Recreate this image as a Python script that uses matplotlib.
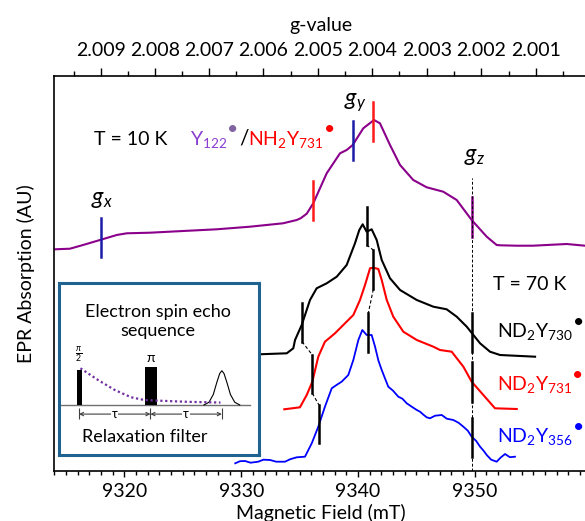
import numpy as np
import matplotlib
matplotlib.use('Agg')
import matplotlib.pyplot as plt
from matplotlib.ticker import MultipleLocator

plt.rcParams['font.family'] = ['Lato', 'DejaVu Sans']
plt.rcParams['mathtext.fontset'] = 'custom'
plt.rcParams['mathtext.rm'] = 'Lato'
plt.rcParams['mathtext.it'] = 'Lato:italic'
plt.rcParams['mathtext.bf'] = 'Lato:bold'

# field (mT) / intensity (AU)
b_10k = [9314.06, 9315.34, 9316.46, 9317.91, 9319.34, 9320.20, 9322.19, 9325.02, 9327.90,
         9330.75, 9333.58, 9334.75, 9335.10, 9335.61, 9336.17, 9337.32, 9338.46, 9339.03,
         9339.55, 9340.45, 9341.37, 9341.88, 9342.74, 9343.60, 9344.73, 9345.88, 9347.30,
         9348.45, 9349.73, 9351.02, 9351.87, 9352.16, 9353.59, 9354.98, 9357.87, 9359.69]
y_10k = [221.4, 222.0, 225.7, 230.7, 235.7, 237.4, 238.0, 239.7, 241.4,
         244.0, 247.4, 250.7, 252.5, 257.0, 267.4, 297.4, 317.4, 320.7,
         325.7, 342.4, 350.7, 347.4, 325.7, 305.7, 290.7, 283.4, 279.0,
         270.7, 250.7, 234.0, 225.7, 225.4, 225.0, 225.0, 226.7, 224.7]

b_730 = [9330.0, 9331.52, 9333.90, 9334.46, 9334.61, 9335.18, 9335.89, 9336.46, 9337.32,
         9338.18, 9339.03, 9339.74, 9340.11, 9340.40, 9340.74, 9341.17, 9341.60, 9342.03,
         9342.74, 9343.60, 9345.03, 9346.45, 9347.59, 9348.45, 9349.31, 9349.76, 9350.45,
         9351.30, 9352.16, 9355.16]
y_730 = [116.0, 116.4, 117.4, 122.4, 130.7, 145.7, 170.7, 182.4, 187.4,
         194.0, 205.7, 227.4, 240.7, 246.4, 239.0, 241.4, 230.7, 210.7,
         192.4, 180.7, 170.7, 164.0, 161.4, 154.0, 144.0, 137.4, 127.4,
         119.0, 115.7, 114.0]

b_731 = [9333.69, 9335.03, 9335.61, 9336.09, 9336.60, 9337.17, 9338.03, 9338.74, 9339.17,
         9339.60, 9340.17, 9340.60, 9341.03, 9341.31, 9341.74, 9342.03, 9342.46, 9343.02,
         9343.88, 9345.03, 9346.45, 9347.02, 9348.02, 9349.02, 9349.73, 9350.73, 9351.73,
         9353.59]
y_731 = [61.4, 63.4, 75.7, 89.0, 114.0, 129.0, 137.4, 145.7, 150.7,
         155.7, 170.7, 185.7, 202.4, 203.0, 201.7, 190.7, 170.7, 154.0,
         139.0, 130.7, 124.0, 120.7, 119.0, 104.0, 89.0, 75.7, 62.4,
         61.7]

b_356 = [9329.49, 9329.9, 9330.33, 9330.8, 9331.46, 9331.9, 9332.47, 9333.0, 9333.75,
         9334.2, 9334.75, 9335.46, 9336.04, 9336.60, 9337.17, 9337.75, 9338.20, 9338.60,
         9339.17, 9339.60, 9340.03, 9340.37, 9340.74, 9341.17, 9341.46, 9341.75, 9342.03,
         9342.59, 9343.0, 9343.45, 9343.8, 9344.17, 9344.6, 9345.03, 9345.31, 9345.6,
         9345.88, 9346.16, 9346.6, 9347.17, 9347.6, 9348.16, 9348.6, 9349.02, 9349.4,
         9349.73, 9350.1, 9350.45, 9350.75, 9351.02, 9351.4, 9351.87, 9352.2, 9352.59,
         9353.0, 9353.44]
y_356 = [7.4, 9.5, 9.7, 8.0, 9.0, 11.0, 10.7, 9.0, 9.0,
         11.5, 13.4, 14.0, 27.4, 44.0, 64.0, 82.4, 86.0, 89.0,
         95.7, 110.7, 130.7, 140.7, 135.7, 135.7, 124.0, 110.0, 100.7,
         84.0, 80.0, 74.0, 72.0, 67.4, 64.0, 60.7, 59.0, 56.0,
         53.4, 52.4, 55.0, 55.7, 52.0, 50.7, 48.0, 44.0, 40.0,
         34.0, 30.0, 24.0, 20.0, 15.7, 11.0, 9.0, 13.0, 16.7,
         13.5, 14.0]

# g-tensor markers: field, bottom, top, colour
marks_10k = [(9317.97, 214.0, 253.0, '#1c1ca8'), (9336.17, 250.7, 290.0, '#ff1a1a'),
             (9339.55, 310.7, 350.0, '#1c1ca8'), (9341.26, 329.7, 368.4, '#ff1a1a'),
             (9349.73, 234.0, 273.4, '#8B008B')]
marks_70k = [(9335.21, 129.0, 167.4), (9340.74, 225.7, 264.0), (9349.73, 119.0, 158.0),
             (9336.09, 77.4, 115.7), (9341.31, 181.4, 220.7), (9349.73, 69.0, 109.0),
             (9336.66, 27.4, 65.7), (9340.88, 119.0, 157.4), (9349.73, 14.0, 52.4)]
# dashed connectors between the gx / gy markers
link_b = [[9335.21, 9336.09, 9336.66], [9340.74, 9341.31, 9340.88]]
link_y = [[129.0, 115.7, 77.4, 65.7], [225.7, 220.7, 181.4, 157.4]]

g_major = [2.001, 2.002, 2.003, 2.004, 2.005, 2.006, 2.007, 2.008, 2.009]
g_minor = [2.0005, 2.0015, 2.0025, 2.0035, 2.0045, 2.0055, 2.0065, 2.0075, 2.0085, 2.0095]
g_times_b = 18719.8   # g * B (mT) at 263 GHz

fig = plt.figure(figsize=(5.85, 5.21), dpi=100)
ax = fig.add_axes([54.3 / 585, 1 - 470.7 / 521, (588 - 54.3) / 585, (470.7 - 76) / 521])

ax.plot(b_10k, y_10k, color='#8B008B', lw=1.5)
ax.plot(b_730, y_730, color='black', lw=1.5)
ax.plot(b_731, y_731, color='#ff0000', lw=1.5)
ax.plot(b_356, y_356, color='#0000ff', lw=1.3)

for b, lo, hi, c in marks_10k:
    ax.plot([b, b], [lo, hi], color=c, lw=1.8)
for b, lo, hi in marks_70k:
    ax.plot([b, b], [lo, hi], color='black', lw=1.8)
ax.plot([9349.73, 9349.73], [0, 292.4], color='black', lw=0.7, ls=(0, (3, 2)))
for lb, ly in zip(link_b, link_y):
    ax.plot([lb[0], lb[1]], [ly[0], ly[1]], color='black', lw=0.8, ls=(0, (3, 2)))
    ax.plot([lb[1], lb[2]], [ly[2], ly[3]], color='black', lw=0.8, ls=(0, (3, 2)))

ax.set_xlim(9314.0, 9359.69)
ax.set_ylim(0, 394.7)
ax.set_yticks([])
ax.xaxis.set_major_locator(MultipleLocator(10))
ax.xaxis.set_minor_locator(MultipleLocator(1))
ax.tick_params(axis='x', which='major', direction='out', length=4.5, width=1, labelsize=14, pad=4)
ax.tick_params(axis='x', which='minor', direction='out', length=2.7, width=1)
ax.spines['top'].set_visible(False)
ax.spines['right'].set_visible(False)
for s in ('left', 'bottom'):
    ax.spines[s].set_linewidth(1.2)
ax.set_xlabel('Magnetic Field (mT)', fontsize=14, labelpad=3)
ax.set_ylabel('EPR Absorption (AU)', fontsize=14, labelpad=14)

def to_g(x):
    x = np.asarray(x, dtype=float)
    with np.errstate(divide='ignore'):
        return g_times_b / x

sec = ax.secondary_xaxis('top', functions=(to_g, to_g))
sec.set_xticks(g_major)
sec.set_xticklabels(['%.3f' % g for g in g_major])
sec.set_xticks(g_minor, minor=True)
sec.tick_params(which='major', direction='out', length=6, width=1, labelsize=14, pad=6)
sec.tick_params(which='minor', direction='out', length=3.5, width=1)
sec.spines['top'].set_linewidth(1.2)
sec.set_xlabel('g-value', fontsize=14, labelpad=8)

# labels
ax.text(9339.74, 367.7, '$g_y$', fontsize=17, ha='center', va='center')
ax.text(9318.1, 270.7, '$g_x$', fontsize=17, ha='center', va='center')
ax.text(9350.0, 314.0, '$g_z$', fontsize=17, ha='center', va='center')
ax.text(9317.4, 331.4, 'T = 10 K', fontsize=14, va='center')
t1 = ax.text(9325.62, 325.7, 'Y$_{122}$', fontsize=14, color='#8a3fd0', va='baseline')
ax.annotate('\u2022', xy=(1, 0.55), xycoords=t1, fontsize=14, color='#8064a2', va='bottom')
ax.text(9329.8, 325.7, '/', fontsize=15, color='black', va='baseline')
t3 = ax.text(9330.6, 325.7, 'NH$_2$Y$_{731}$', fontsize=14, color='#ff0000', va='baseline')
ax.annotate('\u2022', xy=(1, 0.55), xycoords=t3, fontsize=14, color='#ff0000', va='bottom')

ax.text(9351.56, 185.7, 'T = 70 K', fontsize=14, va='center')
right_labels = [('ND$_2$Y$_{730}$', 139.0, 'black'), ('ND$_2$Y$_{731}$', 85.7, '#ff0000'),
                ('ND$_2$Y$_{356}$', 34.0, '#0000ff')]
for s, yy, c in right_labels:
    t = ax.text(9351.9, yy, s, fontsize=14, color=c, va='center')
    ax.annotate('\u2022', xy=(1, 0.55), xycoords=t, fontsize=14, color=c, va='bottom')

# inset: spin echo sequence
pulse_t = [0.007, 1.01]
pulse_h = [1.0, 1.08]
pulse_w = [0.078, 0.163]
decay_t = [0.02, 0.27, 0.5, 0.73, 0.92, 1.16, 1.53, 1.98]
decay_h = [1.05, 0.71, 0.43, 0.22, 0.14, 0.12, 0.09, 0.07]
echo_t = [1.75, 1.82, 1.88, 1.93, 1.97, 2.0, 2.03, 2.07, 2.12, 2.18, 2.25]
echo_h = [0.0, 0.08, 0.3, 0.65, 0.9, 0.98, 0.9, 0.65, 0.3, 0.08, 0.0]

axi = fig.add_axes([59 / 585, 1 - 455 / 521, 200 / 585, 171.7 / 521])
axi.set_xlim(-0.28, 2.52)
axi.set_ylim(-1.43, 3.48)
axi.set_xticks([])
axi.set_yticks([])
for s in axi.spines.values():
    s.set_color('#1f6391')
    s.set_linewidth(2.2)
axi.plot([-0.28, 2.4], [0, 0], color='#707070', lw=1.0)
axi.bar(pulse_t, pulse_h, width=pulse_w, color='black', zorder=3)
axi.plot(decay_t, decay_h, color='#7030a0', lw=1.6, ls=(0, (1, 1.2)), zorder=4)
axi.plot(echo_t, echo_h, color='black', lw=0.8)
axi.vlines([0, 1, 2], -0.4, -0.1, color='#404040', lw=0.8)
for a, b in [(0, 1), (1, 2)]:
    axi.annotate('', xy=(a, -0.26), xytext=(b, -0.26),
                 arrowprops=dict(arrowstyle='<->', color='#404040', lw=0.8,
                                 shrinkA=0, shrinkB=0, mutation_scale=6))
    axi.text((a + b) / 2, -0.26, '\u03c4', fontsize=9, ha='center', va='center',
             bbox=dict(fc='white', ec='none', pad=0.5))
axi.text(0.0, 1.43, r'$\frac{\pi}{2}$', fontsize=9, ha='center', va='center')
axi.text(1.0, 1.35, '\u03c0', fontsize=10, ha='center', va='center')
axi.text(1.11, 2.39, 'Electron spin echo\nsequence', fontsize=13, ha='center', va='center',
         linespacing=1.25)
axi.text(0.925, -0.92, 'Relaxation filter', fontsize=13, ha='center', va='center')

fig.savefig('out.png', dpi=100)
